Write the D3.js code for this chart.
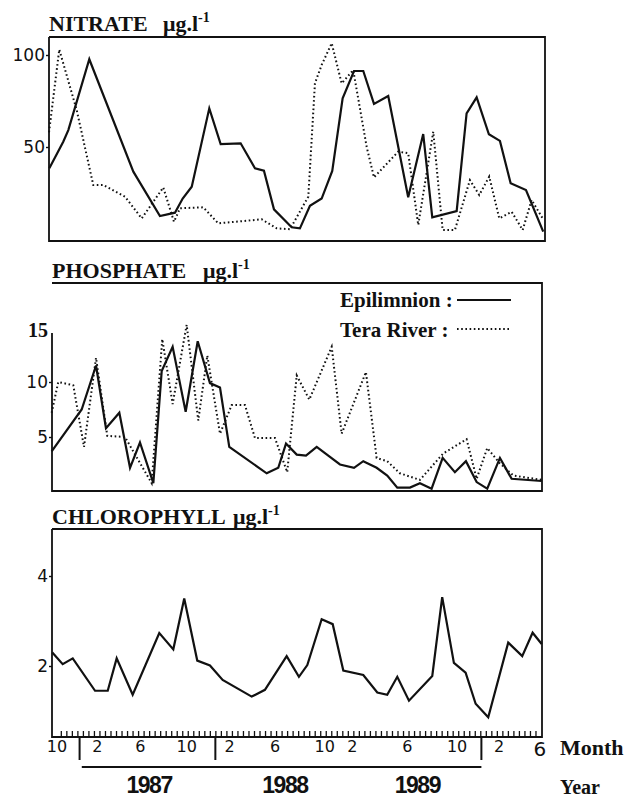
<!DOCTYPE html>
<html>
<head>
<meta charset="utf-8">
<script src="https://cdn.jsdelivr.net/npm/d3@7/dist/d3.min.js"></script>
<style>
body { margin: 0; background: #fff; overflow: hidden; }
svg { display: block; }
svg text { fill: #111; }
.serif { font-family: "Liberation Serif", "Times New Roman", serif; font-weight: bold; }
.num { font-family: "DejaVu Sans", sans-serif; }
</style>
</head>
<body>
<svg id="chart"></svg>
<script>

// [month since Oct 1986, value]
var nitrateEpi = [[-0.54,38.4],[0.72,52.9],[1.18,59.2],[3.08,97.7],[7.07,36.6],[9.48,12.5],[10.84,14.3],
    [11.54,22],[12.36,28.4],[13.95,71],[14.98,51.6],[16.79,52],[18.09,38.4],[18.9,37.1],[19.81,16.1],
    [21.41,6.4],[22.16,5.8],[23.07,18.1],[24.13,22],[25.09,37],[26.03,76.5],[27.06,91.3],[27.9,91.3],
    [28.87,73.4],[30.16,77.7],[31.97,22.7],[33.33,57],[34.15,11.8],[36.36,15.2],[37.26,68.3],[38.17,77],
    [39.28,56.9],[40.28,53.3],[41.25,30.3],[42.64,26.6],[44.2,4]];
var nitrateRiver = [[-0.57,58],[0.36,103],[1.94,70],[3.44,29.3],[4.35,29.3],[6.31,23],[7.83,11.2],[9.78,28],
    [10.75,9.4],[11.3,16.7],[13.41,17.2],[14.76,8.5],[18.7,10.7],[20.05,5.8],[21.26,5.3],[22.92,23],
    [23.52,84.6],[24.13,94.6],[25.04,106.4],[25.94,84.6],[26.99,91.8],[28.21,50],[28.87,33.5],[31.07,47.5],
    [31.97,46.6],[32.88,7.6],[34.24,58.3],[35.09,4.9],[36.2,4.9],[37.56,32],[38.41,23.9],[39.31,33.9],
    [40.22,11.2],[41.34,14.8],[42.34,4.9],[43.15,21.2],[44.15,11.2]];

var phosphateEpi = [[-0.33,3.7],[2.39,7.5],[3.69,11.5],[4.59,5.8],[5.8,7.2],[6.77,2.2],[7.67,4.5],[8.88,0.8],
    [9.64,11],[10.63,13.2],[11.81,7.3],[12.9,13.7],[14.01,9.9],[14.92,9.5],[15.76,4.1],[19.15,1.7],[20.2,2.2],
    [20.9,4.4],[21.87,3.4],[22.71,3.3],[23.68,4.1],[24.73,3.3],[25.79,2.5],[27.06,2.2],[27.9,2.8],[29.11,2.2],
    [30.07,1.5],[30.98,0.4],[32.13,0.4],[33.03,0.8],[34.09,0.3],[35.09,3.1],[36.2,1.8],[37.2,2.8],[38.17,0.9],
    [39.13,0.3],[40.28,3.1],[41.34,1.2],[44.06,1.0]];
var phosphateRiver = [[-0.33,7.2],[0.27,10],[1.63,9.7],[2.6,4.1],[3.69,12.2],[4.71,5.1],[6.31,5],[8.73,0.8],
    [9.69,13.9],[10.63,8],[11.9,15.2],[12.95,6.5],[13.77,12.4],[14.92,5.3],[15.98,7.9],[17.18,7.9],[18.09,4.9],
    [19.9,4.9],[21.01,1.8],[21.87,10.6],[23.01,8.4],[25.04,13.2],[25.94,5.3],[28.14,10.9],[29.11,3.1],
    [30.07,2.8],[31.22,1.7],[33.03,1.1],[35.14,3.5],[37.26,4.8],[38.17,1.2],[39.13,4],[40.28,2.6],[41.49,1.5],
    [44.06,1.1]];

var chlorophyll = [[-0.27,2.3],[0.67,2.04],[1.58,2.17],[3.6,1.45],[4.75,1.45],[5.56,2.17],[7.01,1.36],[9.42,2.73],
    [10.69,2.37],[11.68,3.5],[12.86,2.12],[14.01,2.01],[15.16,1.69],[17.79,1.32],[18.99,1.47],[20.96,2.22],
    [22.07,1.76],[22.83,2.02],[24.13,3.04],[25.13,2.93],[26.09,1.9],[27.9,1.8],[29.17,1.41],[30.07,1.36],
    [30.98,1.76],[32.04,1.23],[34.15,1.78],[35.05,3.53],[36.11,2.07],[37.17,1.85],[38.08,1.16],[39.22,0.86],
    [41.03,2.52],[42.3,2.22],[43.24,2.74],[44.06,2.49]];

var monthLabels = ["10","2","6","10","2","6","10","2","6","10","2","6"];
var monthLabelPos = [0.15,3.8,7.7,11.9,15.8,19.9,24.4,26.9,31.9,36.4,40.2,43.9];
var yearLabels = ["1987","1988","1989"];
var yearLabelPos = [8.5,20.8,32.8];
var yearBreaks = [2.2,14.5,38.6];

var width = 637, height = 799;

var svg = d3.select("#chart")
    .attr("width", width)
    .attr("height", height);

var x = d3.scaleLinear().domain([0, 44]).range([55.3, 541]);

function drawPanel(p) {
    var y = d3.scaleLinear().domain(p.domain).range(p.range);

    // frame
    var g = svg.append("g");
    g.append("path")
        .attr("d", "M" + p.left + "," + p.axisTop + "V" + p.bottom + "H" + p.right + "V" + p.top + "H" + p.left)
        .attr("fill", "none")
        .attr("stroke", "#111")
        .attr("stroke-width", 1.8);

    var yAxis = d3.axisLeft(y)
        .tickValues(p.ticks)
        .tickSize(3)
        .tickPadding(1)
        .tickFormat(d3.format("d"));

    var ax = g.append("g")
        .attr("transform", "translate(" + p.left + ",0)")
        .call(yAxis);
    ax.select(".domain").remove();
    ax.selectAll("line").attr("stroke", "#111").attr("stroke-width", 1.4);
    ax.selectAll("text")
        .attr("class", "num")
        .style("font-size", "17px")
        .attr("fill", "#111");

    var line = d3.line()
        .x(function (d) { return x(d[0]); })
        .y(function (d) { return y(d[1]); });

    p.series.forEach(function (s) {
        g.append("path")
            .datum(s.data)
            .attr("d", line)
            .attr("fill", "none")
            .attr("stroke", "#111")
            .attr("stroke-width", s.dotted ? 2 : 2.2)
            .attr("stroke-dasharray", s.dotted ? "1.6,2.6" : null);
    });

    // title
    var t = svg.append("text")
        .attr("class", "serif")
        .attr("x", p.left)
        .attr("y", p.titleY)
        .style("font-size", "22px");
    t.append("tspan").text(p.title);
    t.append("tspan").attr("x", p.unitX).text("\u03bcg.l");
    t.append("tspan").attr("dy", -9).style("font-size", "14px").text("-1");

    return { g: g, y: y, ax: ax };
}

var nit = drawPanel({
    left: 49, right: 545, top: 37, axisTop: 37, bottom: 241,
    domain: [0, 100], range: [239, 55], ticks: [50, 100],
    title: "NITRATE", titleY: 31, unitX: 163,
    series: [{ data: nitrateEpi }, { data: nitrateRiver, dotted: true }]
});

var pho = drawPanel({
    left: 52, right: 542, top: 283, axisTop: 333, bottom: 491,
    domain: [0, 15], range: [492, 327], ticks: [5, 10, 15],
    title: "PHOSPHATE", titleY: 278, unitX: 203,
    series: [{ data: phosphateEpi }, { data: phosphateRiver, dotted: true }]
});
// the top rule of this panel runs under the title
pho.g.append("line")
    .attr("x1", 52).attr("x2", 542).attr("y1", 283).attr("y2", 283)
    .attr("stroke", "#111").attr("stroke-width", 2.2);
pho.ax.selectAll(".tick")
    .filter(function (d) { return d === 15; })
    .select("text")
    .attr("class", "serif")
    .style("font-size", "20px")
    .attr("dy", "0.45em");
pho.ax.selectAll(".tick").filter(function (d) { return d === 15; }).select("line").remove();

var chl = drawPanel({
    left: 52, right: 542, top: 529, axisTop: 529, bottom: 737,
    domain: [0, 4], range: [756, 576], ticks: [2, 4],
    title: "CHLOROPHYLL", titleY: 524, unitX: 233,
    series: [{ data: chlorophyll }]
});

// legend
var legend = svg.append("g").attr("class", "serif").style("font-size", "21px");
legend.append("text").attr("x", 340).attr("y", 307).text("Epilimnion :");
legend.append("text").attr("x", 340).attr("y", 337).text("Tera River :");
legend.append("line").attr("x1", 457).attr("x2", 511).attr("y1", 300).attr("y2", 300)
    .attr("stroke", "#111").attr("stroke-width", 2);
legend.append("line").attr("x1", 457).attr("x2", 510).attr("y1", 329).attr("y2", 329)
    .attr("stroke", "#111").attr("stroke-width", 2).attr("stroke-dasharray", "1.6,2.6");

// time axis
var xAxis = d3.axisTop(x)
    .tickValues(d3.range(0.5, 44, 0.5))
    .tickSize(6)
    .tickSizeOuter(0)
    .tickFormat("");

var xa = svg.append("g")
    .attr("transform", "translate(0,737)")
    .call(xAxis);
xa.select(".domain").remove();
xa.selectAll("line").attr("stroke", "#111").attr("stroke-width", 1.3);

svg.append("g").selectAll("text")
    .data(monthLabels)
    .enter()
    .append("text")
    .attr("class", "num")
    .attr("x", function (d, i) { return x(monthLabelPos[i]); })
    .attr("y", function (d, i) { return i === monthLabels.length - 1 ? 756 : 752; })
    .attr("text-anchor", "middle")
    .style("font-size", function (d, i) { return i === monthLabels.length - 1 ? "20px" : "16px"; })
    .text(function (d) { return d; });

svg.append("g").selectAll("line")
    .data(yearBreaks)
    .enter()
    .append("line")
    .attr("x1", function (d) { return x(d); })
    .attr("x2", function (d) { return x(d); })
    .attr("y1", 738)
    .attr("y2", 760)
    .attr("stroke", "#111")
    .attr("stroke-width", 2);

svg.append("line")
    .attr("x1", x(2.4)).attr("x2", x(38.6))
    .attr("y1", 767).attr("y2", 767)
    .attr("stroke", "#111").attr("stroke-width", 2.2);

svg.append("g").selectAll("text")
    .data(yearLabels)
    .enter()
    .append("text")
    .attr("x", function (d, i) { return x(yearLabelPos[i]); })
    .attr("y", 793)
    .attr("text-anchor", "middle")
    .style("font-family", "'Liberation Sans', Arial, sans-serif")
    .style("font-weight", "bold")
    .style("font-size", "23px")
    .style("letter-spacing", "-1.5px")
    .text(function (d) { return d; });

svg.append("text").attr("class", "serif").attr("x", 560).attr("y", 755)
    .style("font-size", "22px").text("Month");
svg.append("text").attr("class", "serif").attr("x", 560).attr("y", 794)
    .style("font-size", "20px").text("Year");

</script>
</body>
</html>
